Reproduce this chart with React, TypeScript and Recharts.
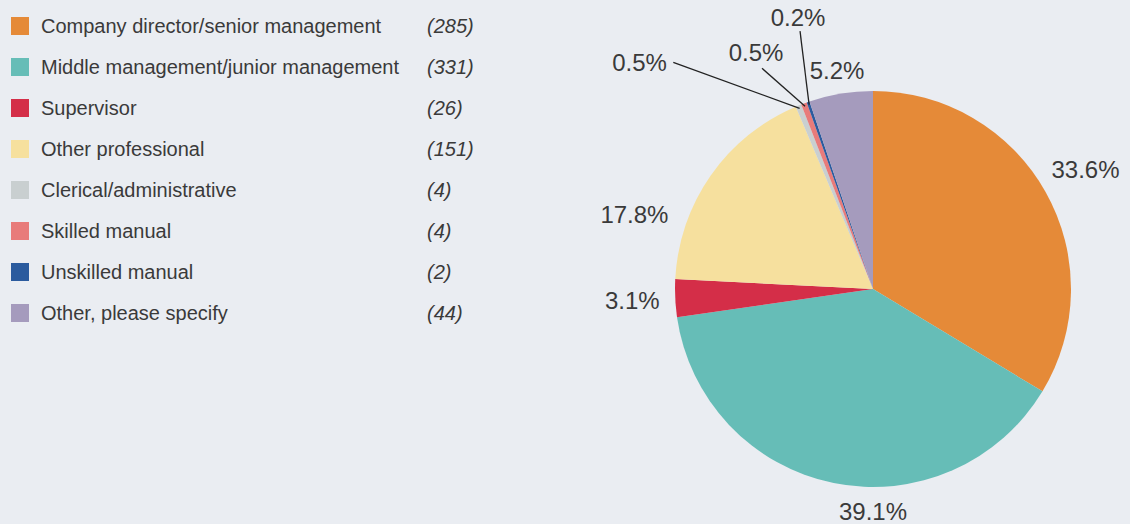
import React from 'react';
import { PieChart, Pie, Cell } from 'recharts';

// Occupation categories and respondent counts
const categories = [
  'Company director/senior management',
  'Middle management/junior management',
  'Supervisor',
  'Other professional',
  'Clerical/administrative',
  'Skilled manual',
  'Unskilled manual',
  'Other, please specify',
];
const counts = [285, 331, 26, 151, 4, 4, 2, 44];
const percentLabels = ['33.6%', '39.1%', '3.1%', '17.8%', '0.5%', '0.5%', '0.2%', '5.2%'];

const COLORS = ['#e58a38', '#66bdb7', '#d42e48', '#f6e09e', '#c9cfd0', '#e87b7a', '#2b5b9e', '#a59bbd'];
const BG = '#eaedf2';
const TEXT = '#3a3a3a';
const FONT = '"Liberation Sans", Arial, sans-serif';

const WIDTH = 1130;
const HEIGHT = 524;
const CX = 873;
const CY = 289;
const R = 198;

// label placement: angle is clockwise from 12 o'clock (null = slice middle), r = distance from centre
const LABEL_LAYOUT: { a: number | null; r: number; line?: { a: number; r: number } }[] = [
  { a: null, r: 244 },
  { a: 180, r: 222 },
  { a: null, r: 241 },
  { a: 287.4, r: 250 },
  { a: 314.1, r: 325, line: { a: 318.6, r: 302 } },
  { a: 333.7, r: 264, line: { a: 333.3, r: 247 } },
  { a: 344.6, r: 282, line: { a: 344.2, r: 268 } },
  { a: null, r: 221 },
];

const data = categories.map((name, i) => ({ name, value: counts[i] }));

function polar(cx: number, cy: number, r: number, clockDeg: number) {
  const rad = (clockDeg * Math.PI) / 180;
  return { x: cx + r * Math.sin(rad), y: cy - r * Math.cos(rad) };
}

function renderLabel(props: any) {
  const { cx, cy, midAngle, outerRadius, index } = props;
  const spec = LABEL_LAYOUT[index];
  const mid = 90 - midAngle; // recharts angle -> clockwise from top
  const angle = spec.a === null ? mid : spec.a;
  const p = polar(cx, cy, spec.r, angle);
  let line = null;
  if (spec.line) {
    const s = polar(cx, cy, outerRadius - 3, mid);
    const e = polar(cx, cy, spec.line.r, spec.line.a);
    line = <line x1={s.x} y1={s.y} x2={e.x} y2={e.y} stroke="#222" strokeWidth={1.3} />;
  }
  return (
    <g key={`lbl-${index}`}>
      {line}
      <text
        x={p.x}
        y={p.y}
        fill={TEXT}
        textAnchor="middle"
        dominantBaseline="central"
        fontSize={24}
        fontFamily={FONT}
      >
        {percentLabels[index]}
      </text>
    </g>
  );
}

function LegendList() {
  return (
    <div style={{ position: 'absolute', left: 11, top: 6, fontFamily: FONT, color: TEXT, fontSize: 20 }}>
      {categories.map((c, i) => (
        <div key={c} style={{ position: 'relative', height: 41, width: 480 }}>
          <div
            style={{ position: 'absolute', left: 0, top: 11, width: 18, height: 18, background: COLORS[i] }}
          />
          <div style={{ position: 'absolute', left: 30, top: 8, lineHeight: '24px', whiteSpace: 'nowrap' }}>{c}</div>
          <div style={{ position: 'absolute', left: 416, top: 8, lineHeight: '24px', fontStyle: 'italic' }}>
            ({counts[i]})
          </div>
        </div>
      ))}
    </div>
  );
}

export default function App() {
  return (
    <div style={{ position: 'absolute', left: 0, top: 0, width: WIDTH, height: HEIGHT, background: BG, overflow: 'hidden' }}>
      <PieChart
        width={WIDTH}
        height={HEIGHT}
        margin={{ top: 0, right: 0, bottom: 0, left: 0 }}
        style={{ position: 'absolute', left: 0, top: 0 }}
      >
        <Pie
          data={data}
          dataKey="value"
          cx={CX}
          cy={CY}
          outerRadius={R}
          startAngle={90}
          endAngle={-270}
          stroke="none"
          labelLine={false}
          label={renderLabel}
          isAnimationActive={false}
        >
          {data.map((d, i) => (
            <Cell key={d.name} fill={COLORS[i]} />
          ))}
        </Pie>
      </PieChart>
      <LegendList />
    </div>
  );
}
